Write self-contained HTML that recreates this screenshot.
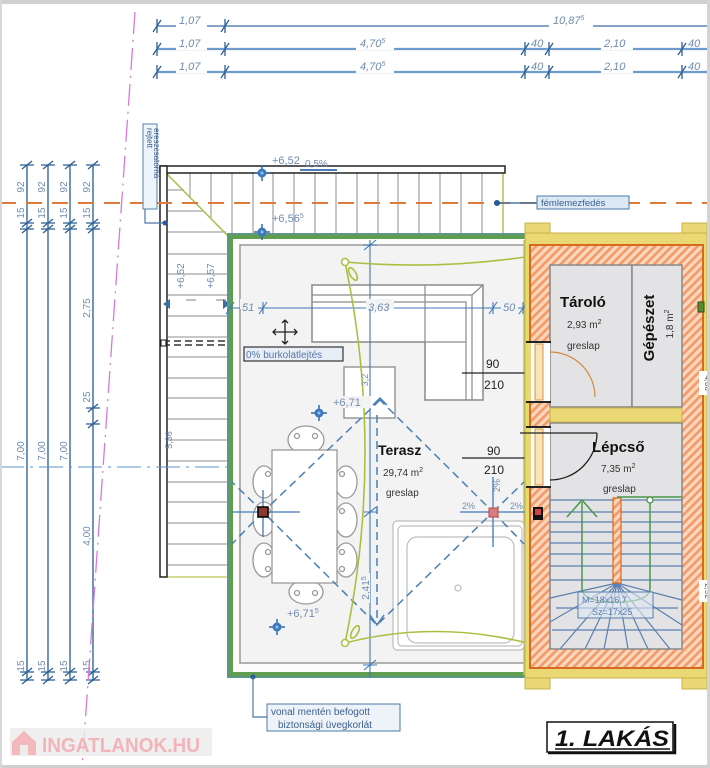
<!DOCTYPE html>
<html><head><meta charset="utf-8"><style>html,body{margin:0;padding:0;background:#fff}svg{display:block}</style></head>
<body>
<svg width="710" height="768" viewBox="0 0 710 768" xmlns="http://www.w3.org/2000/svg" font-family="Liberation Sans, sans-serif">
<defs>
<pattern id="hatch" patternUnits="userSpaceOnUse" width="6" height="6" patternTransform="rotate(45)">
<rect width="6" height="6" fill="#fcd6bd"/>
<rect width="2.6" height="6" fill="#f29a68"/>
</pattern>
</defs>
<rect width="710" height="768" fill="#fff"/>

<!-- top dimension lines -->
<g stroke="#3a6ea5" fill="none">
<line x1="157" y1="26" x2="707" y2="26" stroke-width="1.3"/>
<line x1="157" y1="49" x2="707" y2="49" stroke="#6d9bcb" stroke-width="2.2"/>
<line x1="157" y1="72" x2="707" y2="72" stroke="#6d9bcb" stroke-width="2.2"/>
</g>
<g fill="#fff">
<rect x="176" y="14" width="31" height="13"/><rect x="549" y="14" width="44" height="13"/>
<rect x="176" y="37" width="31" height="13"/><rect x="356" y="37" width="38" height="13"/><rect x="601" y="37" width="32" height="13"/>
<rect x="176" y="60" width="31" height="13"/><rect x="356" y="60" width="38" height="13"/><rect x="601" y="60" width="32" height="13"/>
</g>
<g stroke="#2c5f95" stroke-width="1.3">
<path d="M153 32L161 20M157 19V33M221 32L229 20M225 19V33"/>
<path d="M153 55L161 43M157 42V56M221 55L229 43M225 42V56M521 55L529 43M525 42V56M545 55L553 43M549 42V56M678 55L686 43M682 42V56"/>
<path d="M153 78L161 66M157 65V79M221 78L229 66M225 65V79M521 78L529 66M525 65V79M545 78L553 66M549 65V79M678 78L686 66M682 65V79"/>
</g>
<g font-size="11" font-style="italic" fill="#6f8bb0">
<text x="179" y="24">1,07</text><text x="553" y="24">10,87<tspan font-size="7" dy="-4">5</tspan></text>
<text x="179" y="47">1,07</text><text x="360" y="47">4,70<tspan font-size="7" dy="-4">5</tspan></text><text x="531" y="47">40</text><text x="604" y="47">2,10</text><text x="688" y="47">40</text>
<text x="179" y="70">1,07</text><text x="360" y="70">4,70<tspan font-size="7" dy="-4">5</tspan></text><text x="531" y="70">40</text><text x="604" y="70">2,10</text><text x="688" y="70">40</text>
</g>

<!-- left vertical dims -->
<g stroke="#4d7bab" stroke-width="1.6">
<line x1="27" y1="165" x2="27" y2="681"/><line x1="48" y1="165" x2="48" y2="681"/><line x1="70" y1="165" x2="70" y2="681"/><line x1="93" y1="165" x2="93" y2="681"/>
</g>
<g stroke="#2c5f95" stroke-width="1.3">
<path d="M20 165H34M22 169L32 161M20 223H34M22 227L32 219M20 229H34M22 233L32 225M20 672H34M22 676L32 668M20 680H34M22 684L32 676"/>
<path d="M41 165H55M43 169L53 161M41 223H55M43 227L53 219M41 229H55M43 233L53 225M41 672H55M43 676L53 668M41 680H55M43 684L53 676"/>
<path d="M63 165H77M65 169L75 161M63 223H77M65 227L75 219M63 229H77M65 233L75 225M63 672H77M65 676L75 668M63 680H77M65 684L75 676"/>
<path d="M86 165H100M88 169L98 161M86 223H100M88 227L98 219M86 229H100M88 233L98 225M86 672H100M88 676L98 668M86 680H100M88 684L98 676M86 408H100M88 412L98 404M86 424H100M88 428L98 420"/>
</g>
<g font-size="10" fill="#6f8bb0" text-anchor="middle">
<text transform="translate(24,187) rotate(-90)">92</text><text transform="translate(24,213) rotate(-90)">15</text><text transform="translate(24,451) rotate(-90)">7,00</text><text transform="translate(24,666) rotate(-90)">15</text>
<text transform="translate(45,187) rotate(-90)">92</text><text transform="translate(45,213) rotate(-90)">15</text><text transform="translate(45,451) rotate(-90)">7,00</text><text transform="translate(45,666) rotate(-90)">15</text>
<text transform="translate(67,187) rotate(-90)">92</text><text transform="translate(67,213) rotate(-90)">15</text><text transform="translate(67,451) rotate(-90)">7,00</text><text transform="translate(67,666) rotate(-90)">15</text>
<text transform="translate(90,187) rotate(-90)">92</text><text transform="translate(90,213) rotate(-90)">15</text><text transform="translate(90,308) rotate(-90)">2,75</text><text transform="translate(90,397) rotate(-90)">25</text><text transform="translate(90,536) rotate(-90)">4,00</text><text transform="translate(90,666) rotate(-90)">15</text>
</g>

<!-- overhang slats -->
<g stroke="#b4b4b4" stroke-width="1.5">
<path d="M190 173V197M211 173V218M232 173V236M253 173V236M273 173V236M294 173V236M315 173V236M336 173V236M357 173V236M378 173V236M398 173V236M419 173V236M440 173V236M461 173V236M482 173V236"/>
<path d="M168 190H184M168 211H204M168 232H226"/>
<path d="M168 254H227M168 274H227M168 295H227M168 316H227M168 337H227M168 357H227M168 378H227M168 398H227M168 419H227M168 440H227M168 461H227M168 482H227M168 502H227M168 523H227M168 544H227M168 565H227"/>
</g>
<line x1="168" y1="577" x2="228" y2="577" stroke="#c8d070" stroke-width="1.5"/>
<line x1="167" y1="174" x2="229" y2="237" stroke="#a8c050" stroke-width="1.6"/>
<line x1="503" y1="173" x2="503" y2="236" stroke="#b5c565" stroke-width="1.6"/>
<rect x="160" y="166" width="345" height="7" fill="#fff" stroke="#222" stroke-width="1.5"/>
<rect x="160" y="166" width="7" height="411" fill="#fff" stroke="#222" stroke-width="1.5"/>
<path d="M163 341H235M163 345H235" stroke="#333" stroke-width="1.5" stroke-dasharray="7 4"/>
<rect x="161" y="340" width="5" height="6" fill="#fff" stroke="#111"/>
<g font-size="10" fill="#6f8bb0" text-anchor="middle">
<text transform="translate(184,276) rotate(-90)">+6,52</text>
<text transform="translate(214,276) rotate(-90)">+6,57</text>
<text transform="translate(172,440) rotate(-90)" font-size="9">5,36</text>
</g>
<path d="M186 300H196M216 300H226" stroke="#aaa" stroke-width="1.5"/>
<path d="M163 304L170 299V309Z M230 304L223 299V309Z" fill="#3a6ea5"/>

<!-- dash lines -->
<line x1="0" y1="203" x2="710" y2="203" stroke="#e07a3a" stroke-width="2" stroke-dasharray="16 10"/>
<line x1="0" y1="467" x2="710" y2="467" stroke="#5b93c8" stroke-width="1" stroke-dasharray="24 6 3 6"/>

<!-- terrace -->
<rect x="233" y="239" width="294" height="436" fill="#fcfcfc"/>
<rect x="240" y="245" width="287" height="418" fill="#f3f3f3" stroke="#9a9a9a" stroke-width="1.5"/>
<path d="M527 236H230V675H527" fill="none" stroke="#5e9e4e" stroke-width="6"/>
<path d="M527 234H229V677H527" fill="none" stroke="#5a8fc0" stroke-width="1"/>
<line x1="524" y1="240" x2="524" y2="675" stroke="#b8c860" stroke-width="1.5"/>

<!-- sofa -->
<g fill="#fff" stroke="#8a8a8a" stroke-width="1.5">
<path d="M312 285H483V400H425V342H312Z"/>
</g>
<g fill="none" stroke="#8a8a8a" stroke-width="1.2">
<path d="M312 295H472L483 285M312 302H466V400M472 295V400M425 285V342M425 342H466"/>
</g>
<rect x="344" y="367" width="51" height="51" fill="#fff" stroke="#8a8a8a" stroke-width="1.3"/>

<!-- dining -->
<g fill="#fff" stroke="#9a9a9a" stroke-width="1.3">
<ellipse cx="306" cy="440" rx="18" ry="14"/><ellipse cx="306" cy="592" rx="17" ry="12"/>
<ellipse cx="264" cy="482" rx="11" ry="16"/><ellipse cx="264" cy="519" rx="11" ry="17"/><ellipse cx="264" cy="560" rx="11" ry="17"/>
<ellipse cx="346" cy="482" rx="11" ry="16"/><ellipse cx="346" cy="520" rx="11" ry="17"/><ellipse cx="346" cy="560" rx="11" ry="17"/>
<circle cx="297" cy="436" r="2.5"/><circle cx="315" cy="436" r="2.5"/><circle cx="297" cy="593" r="2.5"/><circle cx="315" cy="593" r="2.5"/>
<circle cx="268" cy="474" r="2.5"/><circle cx="268" cy="511" r="2.5"/><circle cx="268" cy="552" r="2.5"/><circle cx="268" cy="569" r="2.5"/>
<circle cx="342" cy="474" r="2.5"/><circle cx="342" cy="511" r="2.5"/><circle cx="342" cy="552" r="2.5"/><circle cx="342" cy="569" r="2.5"/>
<rect x="272" y="450" width="65" height="133"/>
</g>

<!-- jacuzzi -->
<g fill="#fff" stroke="#bdbdbd" stroke-width="1.2">
<rect x="393" y="521" width="131" height="129" rx="4"/>
<rect x="398" y="526" width="124" height="120" rx="4" fill="none"/>
<rect x="407" y="537" width="107" height="106" rx="10"/>
<circle cx="458" cy="588" r="3"/>
</g>

<!-- dims in terrace -->
<g stroke="#3f78b8" stroke-width="1.1">
<line x1="230" y1="308" x2="527" y2="308"/>
<line x1="370" y1="240" x2="370" y2="678"/>
<path d="M226 314L234 302M263 302V314M259 314L267 302M493 302V314M489 314L497 302M523 302V314M519 314L527 302"/>
<path d="M363 245H377M364 250L376 240M363 512H377M364 517L376 507M363 665H377M364 670L376 660"/>
</g>
<g font-size="11" font-style="italic" fill="#6f8bb0">
<rect x="240" y="299" width="18" height="10" fill="#f3f3f3"/><text x="242" y="311">51</text>
<rect x="366" y="299" width="28" height="10" fill="#f3f3f3"/><text x="368" y="311">3,63</text>
<rect x="501" y="299" width="17" height="10" fill="#f3f3f3"/><text x="503" y="311">50</text>
</g>

<!-- slope dashed lines -->
<g stroke="#4a7fb5" stroke-width="1.5" fill="none" stroke-dasharray="8 5">
<path d="M380 400L263 512L377 625L493 512Z"/>
<path d="M377 415V625"/>
<path d="M263 512L232 482M263 512L232 544M493 512L524 482M493 512L524 544"/>
</g>
<path d="M370 615L377 625L384 615M373 405L380 398L387 405" stroke="#4a7fb5" stroke-width="1.5" fill="none"/>
<g stroke="#3f78b8" stroke-width="1.3">
<path d="M232 512H300M263 490V537M460 512H527M493 477V547"/>
</g>
<g font-size="9" fill="#6f8bb0"><text x="462" y="509">2%</text><text x="510" y="509">2%</text><text transform="translate(500,492) rotate(-90)">2%</text></g>
<rect x="258" y="507" width="10" height="10" fill="#8b3a30" stroke="#000" stroke-width="1.5"/>
<rect x="489" y="508" width="9" height="9" fill="#d88080" stroke="#c04040"/>

<!-- yellow-green curves -->
<g stroke="#a8c040" stroke-width="1.6" fill="none">
<path d="M345 262Q435 270 525 257"/>
<path d="M345 262Q385 452 345 643"/>
<path d="M345 643Q435 620 527 643"/>
<ellipse cx="353" cy="274" rx="3" ry="7" transform="rotate(-30 353 274)"/>
<ellipse cx="355" cy="632" rx="3" ry="7" transform="rotate(30 355 632)"/>
</g>
<circle cx="345" cy="262" r="3.5" fill="#fff" stroke="#a8c040" stroke-width="1.5"/>
<circle cx="345" cy="643" r="3.5" fill="#fff" stroke="#a8c040" stroke-width="1.5"/>

<!-- labels terrace -->
<g font-size="10" fill="#6f8bb0">
<rect x="360" y="573" width="10" height="30" fill="#f3f3f3"/>
<text transform="translate(369,588) rotate(-90)" text-anchor="middle">2,41<tspan font-size="7" dy="-3">5</tspan></text>
<text transform="translate(368,380) rotate(-90)" text-anchor="middle" font-size="9">3,2</text>
<rect x="331" y="396" width="40" height="12" fill="#f3f3f3"/>
<text x="333" y="406" font-size="11">+6,71</text>
<text x="287" y="617" font-size="11">+6,71<tspan font-size="7" dy="-4">5</tspan></text>
</g>
<!-- level markers -->
<g stroke="#2f6aa6" stroke-width="1.5">
<path d="M262 165V181M254 173H270M262 224V240M254 232H270M319 405V421M311 413H327M277 619V635M269 627H285"/>
</g>
<g fill="#3a78c0"><circle cx="262" cy="173" r="4.5"/><circle cx="262" cy="232" r="4.5"/><circle cx="319" cy="413" r="4.5"/><circle cx="277" cy="627" r="4.5"/></g>
<g fill="#9cc0e6"><circle cx="262" cy="173" r="1.5"/><circle cx="262" cy="232" r="1.5"/><circle cx="319" cy="413" r="1.5"/><circle cx="277" cy="627" r="1.5"/></g>
<g font-size="11" fill="#6f8bb0">
<text x="272" y="164">+6,52</text><text x="305" y="167" font-size="10">0,5%</text>
<text x="272" y="222">+6,56<tspan font-size="7" dy="-4">5</tspan></text>
</g>
<line x1="300" y1="170" x2="337" y2="170" stroke="#4a7fb5" stroke-width="2"/>

<!-- burkolat box & move icon -->
<rect x="244" y="347" width="99" height="14" fill="#e8eef6" stroke="#333" stroke-width="1.2"/>
<text x="246" y="358" font-size="10" fill="#5577aa">0% burkolatlejtés</text>
<g stroke="#222" stroke-width="1.3" fill="none">
<path d="M273 332H297M285 320V344M276 329L273 332L276 335M294 329L297 332L294 335M282 323L285 320L288 323M282 341L285 344L288 341"/>
</g>

<!-- door labels -->
<g font-size="12" fill="#222">
<text x="486" y="368">90</text><text x="484" y="389">210</text>
<text x="487" y="455">90</text><text x="484" y="474">210</text>
</g>
<path d="M462 373H588M462 458H550" stroke="#222" stroke-width="1.2"/>
<text x="378" y="455" font-size="14" font-weight="bold" fill="#111">Terasz</text>
<text x="383" y="476" font-size="10" fill="#333">29,74 m<tspan font-size="7" dy="-4">2</tspan></text>
<text x="386" y="496" font-size="10" fill="#333">greslap</text>

<!-- right block -->
<g fill="#e9d873" stroke="#c9b24a" stroke-width="1">
<rect x="525" y="223" width="25" height="12"/><rect x="682" y="223" width="25" height="12"/>
<rect x="525" y="677" width="25" height="12"/><rect x="682" y="677" width="25" height="12"/>
<rect x="525" y="233" width="182" height="445"/>
</g>
<rect x="530" y="245" width="173" height="423" fill="url(#hatch)" stroke="#d86a20" stroke-width="2"/>
<g fill="#e3e3e5" stroke="#888" stroke-width="1.5">
<rect x="550" y="265" width="82" height="142"/>
<rect x="632" y="265" width="50" height="142"/>
<rect x="550" y="423" width="132" height="226"/>
</g>
<rect x="550" y="408" width="132" height="14" fill="#e9d873" stroke="#c9b24a"/>
<rect x="698" y="302" width="6" height="10" fill="#5a8a30" stroke="#2f4f1a"/>
<!-- door openings -->
<g>
<rect x="527" y="342" width="23" height="60" fill="#fff"/>
<rect x="527" y="427" width="23" height="60" fill="#fff"/>
<rect x="527" y="342" width="4" height="60" fill="#e9d873"/><rect x="527" y="427" width="4" height="60" fill="#e9d873"/>
<rect x="535" y="344" width="8" height="56" fill="#f8e4b8" stroke="#d89040"/>
<rect x="535" y="429" width="8" height="56" fill="#f8e4b8" stroke="#d89040"/>
<path d="M526 342H551M526 402H551M526 427H551M526 487H551" stroke="#222" stroke-width="2"/>
</g>
<path d="M550 352A45 45 0 0 1 595 397" fill="none" stroke="#d08a40" stroke-width="1.2"/>
<path d="M550 480A47 47 0 0 0 597 433" fill="none" stroke="#222" stroke-width="1.3"/>
<line x1="520" y1="433" x2="597" y2="433" stroke="#222" stroke-width="1.2"/>

<text x="560" y="307" font-size="15" font-weight="bold" fill="#111">Tároló</text>
<text x="567" y="328" font-size="10" fill="#333">2,93 m<tspan font-size="7" dy="-4">2</tspan></text>
<text x="567" y="349" font-size="10" fill="#333">greslap</text>
<text transform="translate(654,328) rotate(-90)" text-anchor="middle" font-size="15" font-weight="bold" fill="#111">Gépészet</text>
<text transform="translate(673,324) rotate(-90)" text-anchor="middle" font-size="10" fill="#333">1,8 m<tspan font-size="7" dy="-4">2</tspan></text>
<text x="592" y="452" font-size="15" font-weight="bold" fill="#111">Lépcső</text>
<text x="601" y="472" font-size="10" fill="#333">7,35 m<tspan font-size="7" dy="-4">2</tspan></text>
<text x="603" y="492" font-size="10" fill="#333">greslap</text>

<!-- stairs -->
<g stroke="#5b7fb0" stroke-width="1.2">
<path d="M550 500H682M550 512H682M550 522H682M550 532H682M550 543H682M550 554H682M550 566H682M550 580H682"/>
<path d="M617 583L550 598M617 583L550 622M617 583L560 649M617 583L585 649M617 583L604 649M617 583L628 649M617 583L648 649M617 583L670 649M617 583L682 625M617 583L682 600"/>
<path d="M556 608H678M552 630H681"/>
</g>
<rect x="613" y="498" width="8" height="85" fill="url(#hatch)" stroke="#d86a20" stroke-width="1.2"/>
<g stroke="#4a9a4a" stroke-width="1.5" fill="none">
<path d="M617 497H682"/>
<path d="M582 502V588Q582 602 616 602Q650 602 650 588V502"/>
<path d="M567 517L582 500L597 517"/>
</g>
<circle cx="650" cy="500" r="3" fill="#fff" stroke="#4a9a4a" stroke-width="1.3"/>
<rect x="578" y="592" width="75" height="26" fill="#dfe7f2" fill-opacity="0.6" stroke="#5b7fb0"/>
<g font-size="9" fill="#5b7fb0"><text x="582" y="603">M=18x16,7</text><text x="592" y="615">Sz=17x25</text></g>
<rect x="533" y="507" width="10" height="13" fill="#111"/><rect x="535" y="509" width="6" height="6" fill="#c44"/>
<g>
<rect x="699" y="371" width="8" height="24" fill="#fff"/><text transform="translate(705,383) rotate(90)" text-anchor="middle" font-size="8" fill="#555">4,66</text>
<rect x="699" y="580" width="8" height="22" fill="#fff"/><text transform="translate(705,591) rotate(90)" text-anchor="middle" font-size="8" fill="#555">2,92</text>
</g>

<!-- callouts -->
<rect x="143" y="124" width="14" height="85" fill="#eef4fb" stroke="#5580b0"/>
<g font-size="8" fill="#3a5f8f">
<text transform="translate(147,128) rotate(90)">rejtett</text>
<text transform="translate(154,128) rotate(90)">ereszcsatorna</text>
</g>
<path d="M145 209V223H165" fill="none" stroke="#4a78a8" stroke-width="1.2"/>
<circle cx="165" cy="223" r="2.5" fill="#2a5a95"/>
<line x1="497" y1="203" x2="537" y2="203" stroke="#4a78a8" stroke-width="1.5"/>
<circle cx="497" cy="203" r="3" fill="#2a5a95"/>
<rect x="537" y="196" width="92" height="13" fill="#dde8f5" stroke="#4a78a8"/>
<text x="541" y="206" font-size="9.5" fill="#3a5f8f">fémlemezfedés</text>

<circle cx="253" cy="677" r="2.5" fill="#2a5a95"/>
<path d="M253 677V717H267" fill="none" stroke="#4a78a8" stroke-width="1.2"/>
<rect x="267" y="704" width="133" height="27" fill="#eef3fa" stroke="#4a78a8"/>
<g font-size="10" fill="#3a5f8f"><text x="271" y="715">vonal mentén befogott</text><text x="278" y="728">biztonsági üvegkorlát</text></g>

<!-- magenta axis -->
<line x1="135" y1="12" x2="82" y2="768" stroke="#d77ad7" stroke-width="1.3" stroke-dasharray="22 6 2 6"/>

<!-- watermark -->
<rect x="10" y="728" width="202" height="28" rx="2" fill="#ececec" fill-opacity="0.85"/>
<path d="M12 742L24 731L36 742V755H12Z" fill="#f2b8bc"/>
<rect x="20" y="745" width="8" height="10" fill="#ececec"/>
<text x="42" y="752" font-size="20" font-weight="bold" fill="#f2b4b8" textLength="158" lengthAdjust="spacingAndGlyphs">INGATLANOK.HU</text>

<!-- title -->
<rect x="547" y="722" width="126" height="30" fill="#fff" stroke="#111" stroke-width="1.5"/>
<path d="M548 753H675V724" fill="none" stroke="#111" stroke-width="2.5"/>
<text x="555" y="746" font-size="22" font-weight="bold" font-style="italic" fill="#111" textLength="114" lengthAdjust="spacingAndGlyphs">1. LAKÁS</text>
<line x1="555" y1="749" x2="670" y2="749" stroke="#111" stroke-width="1.5"/>

<!-- page frame -->
<rect x="0" y="0" width="710" height="4" fill="#d0d0d0"/>
<rect x="707" y="0" width="3" height="768" fill="#d4d4d4"/>
<rect x="0" y="765" width="710" height="3" fill="#d0d0d0"/>
<rect x="0" y="0" width="2" height="768" fill="#d8d8d8"/>
</svg>
</body></html>
